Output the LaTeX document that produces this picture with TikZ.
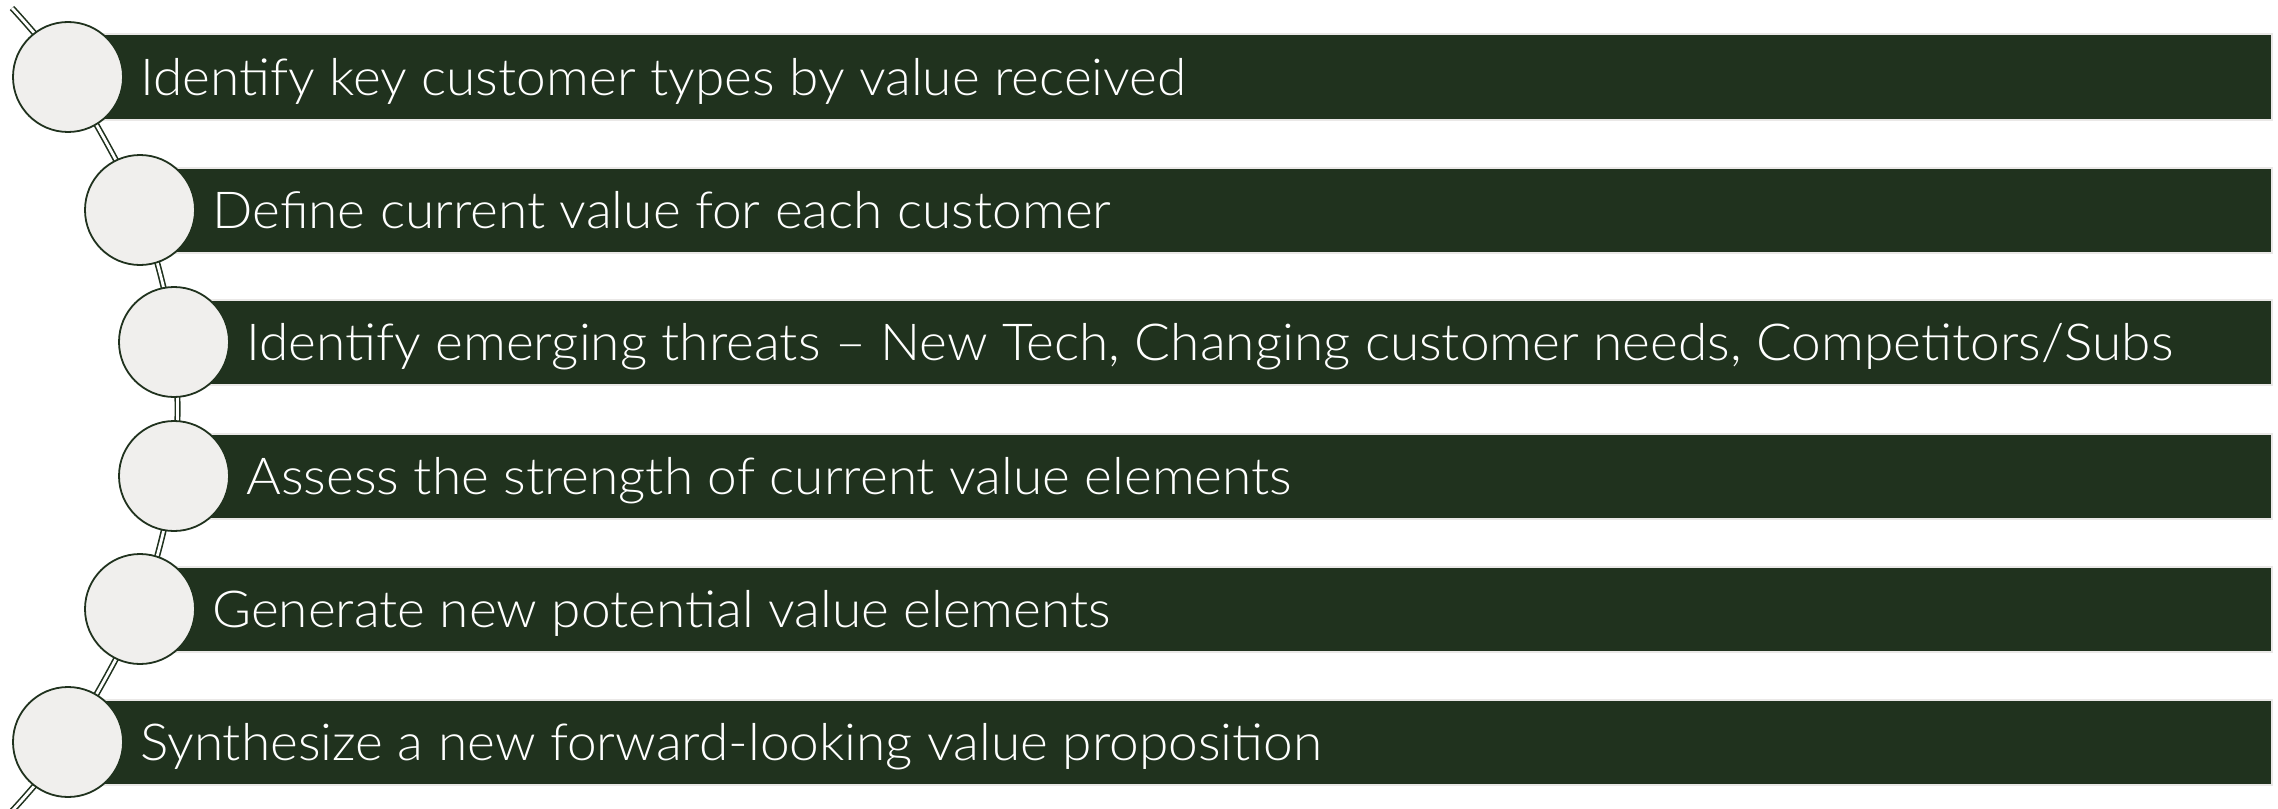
\documentclass[tikz,border=0pt]{standalone}
\usepackage{fontspec}
\setmainfont{Lato}[UprightFont=* Light, FakeStretch=1.043]
\usetikzlibrary{positioning}

\definecolor{leaf}{RGB}{32,50,30}
\definecolor{pebble}{RGB}{240,239,237}
\definecolor{rim}{RGB}{234,232,231}

\tikzset{
  stepdot/.style={circle, draw=leaf, line width=.9pt, fill=pebble,
    minimum size=55pt, inner sep=0pt},
  stepbar/.style={rectangle, draw=rim, line width=1pt, fill=leaf,
    minimum height=42.5pt, inner sep=0pt, anchor=west},
  steptext/.style={text=white, font=\fontsize{25.5}{30}\selectfont,
    inner sep=0pt, text height=18.3pt, text depth=0pt},
  spine/.style={draw=leaf, double=white, line width=.8pt, double distance=1.4pt},
}

\begin{document}
\begin{tikzpicture}[x=0.5pt, y=-0.5pt]
  \useasboundingbox (0,0) rectangle (2278,808);
  % centres of the step circles, on one big arc
  \coordinate (C1) at (68,77);
  \coordinate (C2) at (140,210);
  \coordinate (C3) at (174,342);
  \coordinate (C4) at (174,476);
  \coordinate (C5) at (140,609);
  \coordinate (C6) at (68,742);
  \coordinate (Top) at (12,8);
  \coordinate (Bottom) at (12,811);
  \draw[spine] plot[smooth] coordinates {(Top) (C1) (C2) (C3) (C4) (C5) (C6) (Bottom)};
  % bars
  \node[stepbar, minimum width=1101.5pt] (B1) at (C1) {};
  \node[stepbar, minimum width=1065.5pt] (B2) at (C2) {};
  \node[stepbar, minimum width=1048.5pt] (B3) at (C3) {};
  \node[stepbar, minimum width=1048.5pt] (B4) at (C4) {};
  \node[stepbar, minimum width=1065.5pt] (B5) at (C5) {};
  \node[stepbar, minimum width=1101.5pt] (B6) at (C6) {};
  % circles
  \node[stepdot] (S1) at (C1) {};
  \node[stepdot] (S2) at (C2) {};
  \node[stepdot] (S3) at (C3) {};
  \node[stepdot] (S4) at (C4) {};
  \node[stepdot] (S5) at (C5) {};
  \node[stepdot] (S6) at (C6) {};
  % labels
  \node[steptext, right=8pt of S1] (T1) {Identify key customer types by value received};
  \node[steptext, right=8pt of S2] (T2) {Define current value for each customer};
  \node[steptext, right=8pt of S3] (T3) {Identify emerging threats -- New Tech, Changing customer needs, Competitors/Subs};
  \node[steptext, right=8pt of S4] (T4) {Assess the strength of current value elements};
  \node[steptext, right=8pt of S5] (T5) {Generate new potential value elements};
  \node[steptext, right=8pt of S6] (T6) {Synthesize a new forward-looking value proposition};
\end{tikzpicture}
\end{document}
